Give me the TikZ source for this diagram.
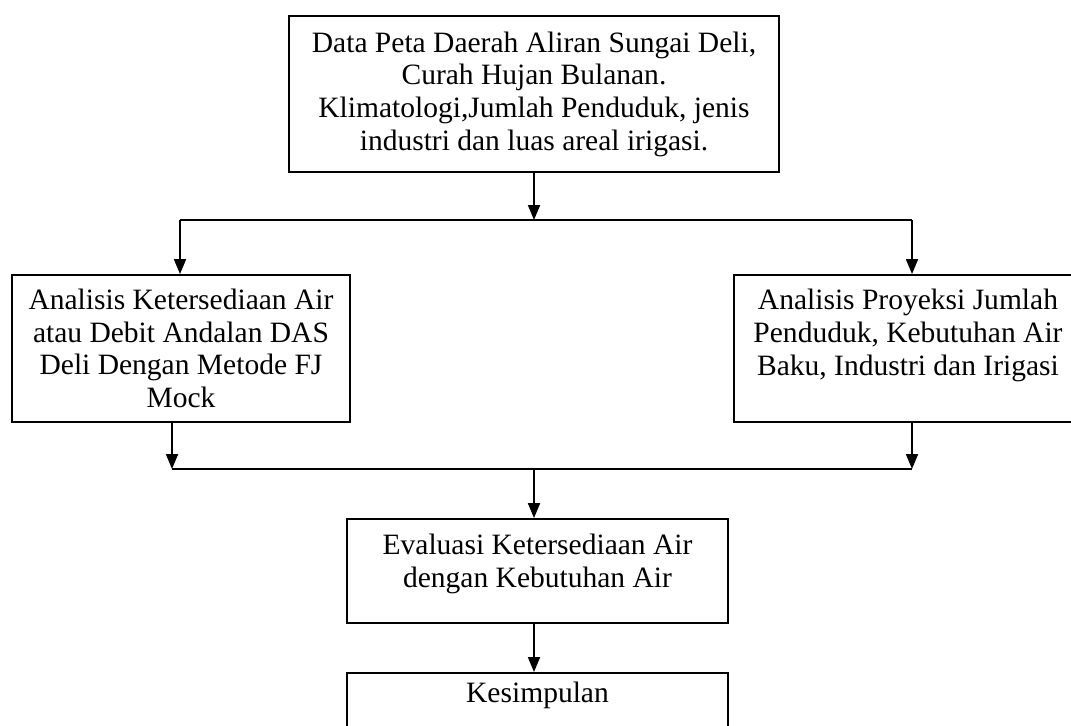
\documentclass[tikz,border=0pt]{standalone}
\usepackage{fontspec}
\setmainfont{Liberation Serif}
\usetikzlibrary{arrows.meta}

\begin{document}
\begin{tikzpicture}[x=0.02cm, y=-0.02cm,
    font=\fontsize{16.8}{18.6}\selectfont,
    box/.style={draw, line width=1.1pt, align=center, inner sep=0pt},
    arr/.style={line width=1.1pt, -{Triangle[width=6.8pt,length=8.5pt]}},
    ln/.style={line width=1.1pt}]
  % 画布
  \useasboundingbox (0,0) rectangle (1071,726);
  \clip (0,0) rectangle (1071,726);

  % 方框
  \node[box, minimum width=9.8cm, minimum height=3.12cm] (data) at (534,94)
    {Data Peta Daerah Aliran Sungai Deli,\\ Curah Hujan Bulanan.\\
     Klimatologi,Jumlah Penduduk, jenis\\ industri dan luas areal irigasi.};
  \node[box, minimum width=6.76cm, minimum height=2.94cm] (ketersediaan) at (181,348.5)
    {Analisis Ketersediaan Air\\ atau Debit Andalan DAS\\ Deli Dengan Metode FJ\\ Mock};
  \node[box, minimum width=6.96cm, minimum height=2.94cm] (proyeksi) at (908,348.5)
    {Analisis Proyeksi Jumlah\\ Penduduk, Kebutuhan Air\\ Baku, Industri dan Irigasi\\ \mbox{}};
  \node[box, minimum width=7.62cm, minimum height=2.08cm] (evaluasi) at (537.5,571)
    {Evaluasi Ketersediaan Air\\ dengan Kebutuhan Air\\[-7pt] \mbox{}};
  \node[box, minimum width=7.62cm, minimum height=2.08cm, anchor=north] (kesimpulan) at (537.5,672)
    {Kesimpulan\\ \mbox{}\\ \mbox{}};

  % 分支点
  \coordinate (split) at (534,220);
  \coordinate (splitL) at (180,220);
  \coordinate (splitR) at (912,220);
  \coordinate (merge) at (534,469);
  \coordinate (mergeL) at (172,469);
  \coordinate (mergeR) at (912,469);

  % 上部分支
  \draw[arr] (data.south -| split) -- (split);
  \draw[ln] (splitL) -- (splitR);
  \draw[arr] (splitL) -- (ketersediaan.north -| splitL);
  \draw[arr] (splitR) -- (proyeksi.north -| splitR);

  % 下部汇合
  \draw[arr] (ketersediaan.south -| mergeL) -- (mergeL);
  \draw[arr] (proyeksi.south -| mergeR) -- (mergeR);
  \draw[ln] (mergeL) -- (mergeR);
  \draw[arr] (merge) -- (evaluasi.north -| merge);
  \draw[arr] (evaluasi.south -| merge) -- (kesimpulan.north -| merge);
\end{tikzpicture}
\end{document}
